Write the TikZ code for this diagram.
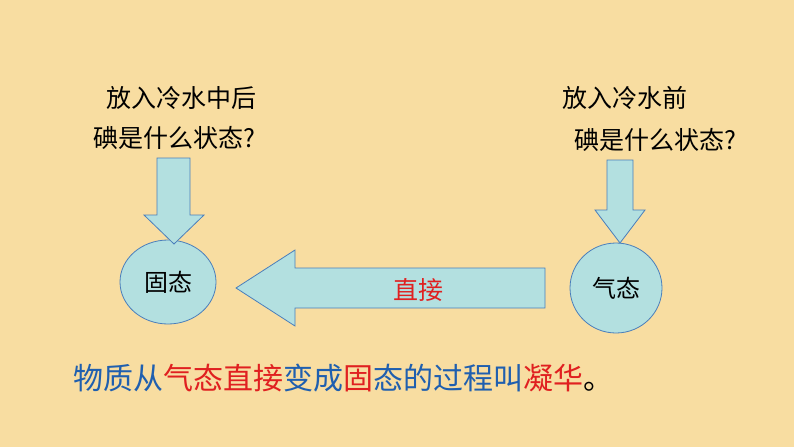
\documentclass[tikz,border=0pt]{standalone}
\usepackage{fontspec}
\usetikzlibrary{shapes.geometric}
\newfontfamily\cjk{Noto Sans CJK SC}
\definecolor{bg}{HTML}{F8DDA1}
\definecolor{fillc}{HTML}{B3E0E0}
\definecolor{edgec}{HTML}{4A7EBB}
\definecolor{blu}{HTML}{1F5FAF}
\definecolor{rd}{HTML}{E02020}
\tikzset{shp/.style={fill=fillc,draw=edgec,line width=0.8pt},
 lbl/.style={font=\cjk\fontsize{25}{30}\selectfont,align=left}}
\begin{document}
\begin{tikzpicture}[x=1pt,y=-1pt]
\useasboundingbox[fill=bg] (0,0) rectangle (794,447);
\node[shp,ellipse,minimum width=96,minimum height=84,inner sep=0, font=\cjk\fontsize{24}{28}\selectfont] (g) at (168,282) {固态};
\node[shp,ellipse,minimum width=92,minimum height=90,inner sep=0, font=\cjk\fontsize{24}{28}\selectfont] (q) at (616,288) {气态};
\draw[shp] (236,288) -- (295,250) -- (295,268) -- (545,268) -- (545,308) -- (295,308) -- (295,326) -- cycle;
\node[font=\cjk\fontsize{25}{28}\selectfont, text=rd] (zj) at (418,290) {直接};
\draw[shp] (157,158) -- (190,158) -- (190,215) -- (204,215) -- (174,244) -- (144,215) -- (157,215) -- cycle;
\draw[shp] (607,160) -- (633,160) -- (633,210) -- (645,210) -- (620,243) -- (595,210) -- (607,210) -- cycle;
\node[lbl] (t1) at (181,98) {放入冷水中后};
\node[lbl] (t2) at (174,138) {碘是什么状态?};
\node[lbl] (t3) at (625,98) {放入冷水前};
\node[lbl] (t4) at (655,140) {碘是什么状态?};
\node[font=\cjk\fontsize{30}{34}\selectfont,anchor=west] (b) at (70,378) {\color{blu}物质从\color{rd}气态直接\color{blu}变成\color{rd}固\color{blu}态的过程叫\color{rd}凝华\color{black}。};
\end{tikzpicture}
\end{document}
